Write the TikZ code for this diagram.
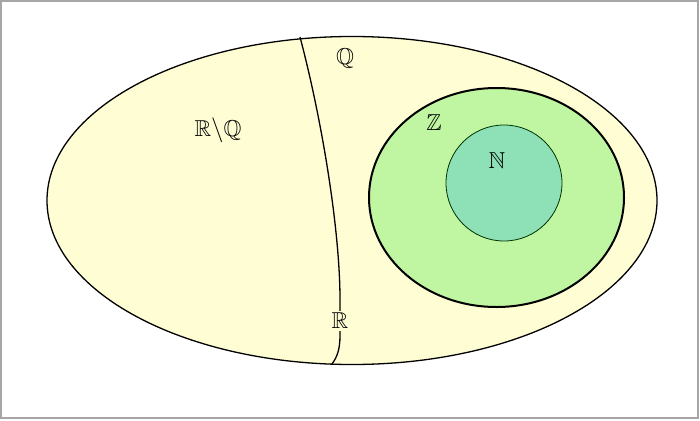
\documentclass[tikz,border=0pt]{standalone}
\usepackage{amssymb}
\definecolor{cream}{RGB}{255,253,212}
\definecolor{lgreen}{RGB}{192,246,162}
\definecolor{teal2}{RGB}{142,225,183}
\begin{document}
\begin{tikzpicture}[x=1pt,y=-1pt,
  lbl/.style={font=\fontsize{23}{26}\selectfont, inner sep=1pt, text=black}]
\useasboundingbox (0,0) rectangle (700,420);
\fill[white] (0,0) rectangle (700,420);
\draw[gray!70, line width=1.5pt] (1,1) rectangle (698,418);
% outer ellipse R
\draw[fill=cream, line width=1.3pt] (352,200.5) ellipse [x radius=305, y radius=164];
% Z
\draw[fill=lgreen, line width=2pt] (496.5,197.5) ellipse [x radius=127.5, y radius=109.5];
% N
\draw[fill=teal2, draw=black!80!green, line width=0.8pt] (504,183) circle [radius=58];
% dividing curve
\coordinate (top) at (300,37);
\coordinate (bot) at (332,364);
\draw[line width=1.3pt] (top) .. controls (322,120) and (340,230) .. (340,300)
  -- (340,335) .. controls (340,350) and (337,357) .. (bot);
% labels
\node[lbl] (q) at (345,58) {$\mathbb{Q}$};
\node[lbl] (rq) at (218,130) {$\mathbb{R}\backslash\mathbb{Q}$};
\node[lbl] (z) at (434,123) {$\mathbb{Z}$};
\node[lbl] (n) at (497,161) {$\mathbb{N}$};
\node[lbl, fill=cream, inner sep=2pt] (r) at (340,321) {$\mathbb{R}$};
\end{tikzpicture}
\end{document}
